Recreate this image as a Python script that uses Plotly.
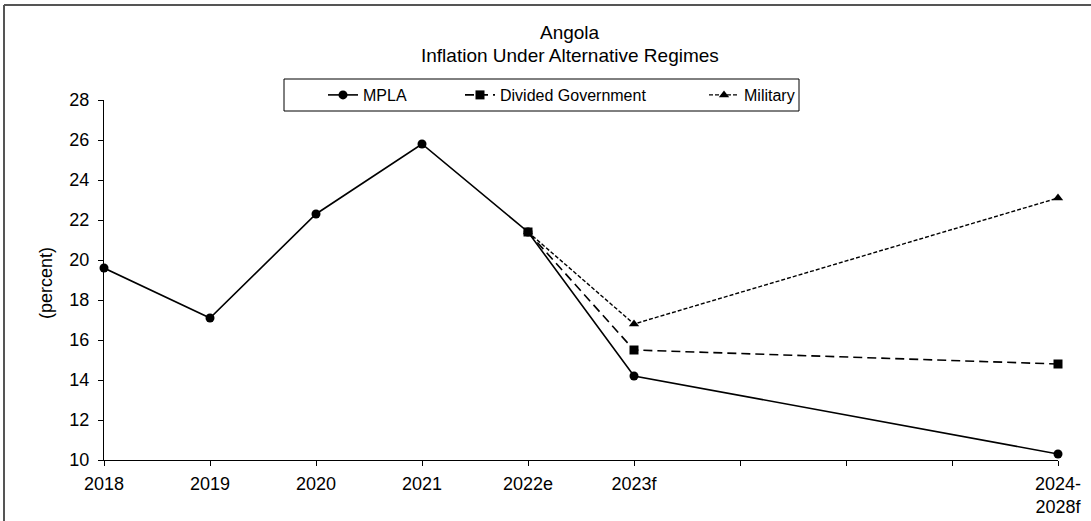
import plotly.graph_objects as go

# Category labels along the x axis (blank slots keep the forecast period spacing)
categories = ["2018", "2019", "2020", "2021", "2022e", "2023f", "", "", "", "2024-<br>2028f"]

# Inflation (percent) by scenario; None marks the unused slots
mpla = [19.6, 17.1, 22.3, 25.8, 21.4, 14.2, None, None, None, 10.3]
divided_government = [None, None, None, None, 21.4, 15.5, None, None, None, 14.8]
military = [None, None, None, None, 21.4, 16.8, None, None, None, 23.1]

positions = list(range(len(categories)))

FONT = "Arial, Liberation Sans, sans-serif"
W, H = 1091, 521
L, R, T, B = 104, 33, 100, 61
pw, ph = W - L - R, H - T - B


def px_x(p):
    return (p - L) / pw


def px_y(p):
    return (H - B - p) / ph


fig = go.Figure()

fig.add_trace(go.Scatter(
    x=positions, y=mpla, name="MPLA", mode="lines+markers", connectgaps=True,
    line=dict(color="black", width=1.6),
    marker=dict(symbol="circle", size=9, color="black"),
    cliponaxis=False, legend="legend",
))
fig.add_trace(go.Scatter(
    x=positions, y=divided_government, name="Divided Government", mode="lines+markers",
    connectgaps=True,
    line=dict(color="black", width=1.6, dash="9px,5px"),
    marker=dict(symbol="square", size=9, color="black"),
    cliponaxis=False, legend="legend2",
))
fig.add_trace(go.Scatter(
    x=positions, y=military, name="Military", mode="lines+markers", connectgaps=True,
    line=dict(color="black", width=1.4, dash="4px,2px"),
    marker=dict(symbol="triangle-up", size=9, color="black"),
    cliponaxis=False, legend="legend3",
))


def legend_at(x_px):
    return dict(
        orientation="h", x=px_x(x_px), y=px_y(95), xanchor="left", yanchor="middle",
        borderwidth=0, bgcolor="rgba(0,0,0,0)",
        font=dict(size=16, family=FONT),
    )


fig.update_layout(
    width=W, height=H,
    margin=dict(l=L, r=R, t=T, b=B, autoexpand=False),
    paper_bgcolor="white", plot_bgcolor="white",
    font=dict(family=FONT, color="black", size=18),
    showlegend=True,
    legend=legend_at(323),
    legend2=legend_at(460),
    legend3=legend_at(704),
    xaxis=dict(
        range=[0, len(categories) - 1],
        tickmode="array", tickvals=positions, ticktext=categories,
        showgrid=False, zeroline=False,
        showline=True, linecolor="black", linewidth=1,
        ticks="outside", ticklen=5, tickcolor="black",
        tickfont=dict(size=18, family=FONT),
        ticklabelstandoff=2, automargin=False,
    ),
    yaxis=dict(
        range=[10, 28], dtick=2,
        showgrid=False, zeroline=False,
        showline=True, linecolor="black", linewidth=1,
        ticks="outside", ticklen=5, tickcolor="black",
        tickfont=dict(size=18, family=FONT),
        ticklabelstandoff=5, automargin=False,
    ),
)

# Legend frame
fig.add_shape(type="rect", xref="paper", yref="paper",
              x0=px_x(284), y0=px_y(79), x1=px_x(799), y1=px_y(111),
              line=dict(color="black", width=1), fillcolor="white", layer="below")

# Title lines
fig.add_annotation(
    text="Angola", xref="paper", yref="paper", x=px_x(570), y=px_y(32),
    xanchor="center", yanchor="middle", showarrow=False,
    font=dict(size=19, family=FONT),
)
fig.add_annotation(
    text="Inflation Under Alternative Regimes", xref="paper", yref="paper",
    x=px_x(570), y=px_y(55),
    xanchor="center", yanchor="middle", showarrow=False,
    font=dict(size=19, family=FONT),
)

# Y axis title
fig.add_annotation(
    text="(percent)", textangle=-90,
    xref="paper", yref="paper", x=px_x(46), y=px_y(283),
    xanchor="center", yanchor="middle", showarrow=False,
    font=dict(size=18, family=FONT),
)

# Frame around the chart
fig.add_shape(type="line", xref="paper", yref="paper",
              x0=px_x(4), y0=px_y(5), x1=px_x(1095), y1=px_y(5),
              line=dict(color="#555555", width=2))
fig.add_shape(type="line", xref="paper", yref="paper",
              x0=px_x(4), y0=px_y(5), x1=px_x(4), y1=px_y(525),
              line=dict(color="#555555", width=2))

fig.write_html("out.html")
